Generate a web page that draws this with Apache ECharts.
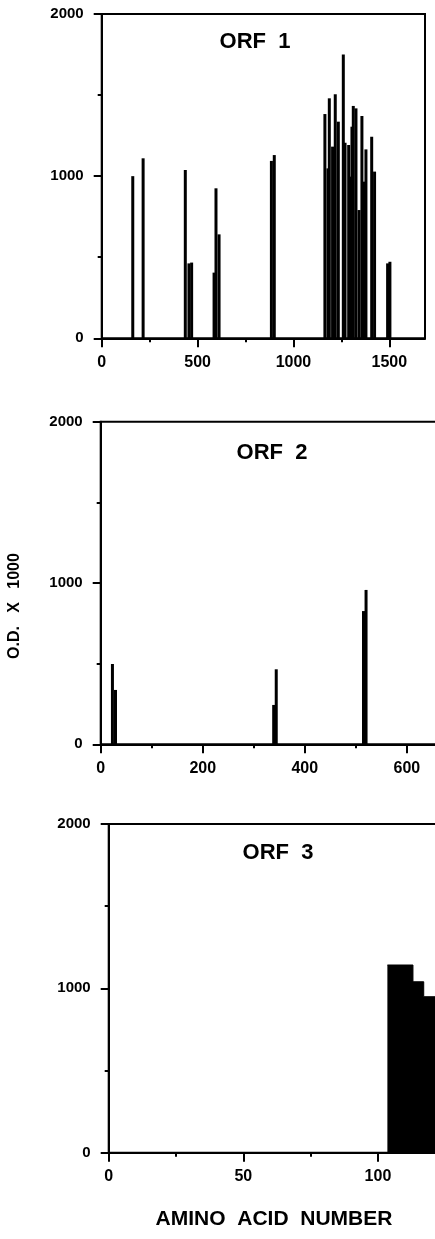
<!DOCTYPE html>
<html lang="en">

<head>
    <meta charset="UTF-8">
    <title>ORF O.D. profiles</title>
    <script src="https://cdn.jsdelivr.net/npm/echarts@6/dist/echarts.min.js"></script>
    <style>
        html, body { margin: 0; padding: 0; background: #fff; }
        #chart { width: 435px; height: 1239px; }
    </style>
</head>

<body>
    <div id="chart"></div>
    <script type="text/javascript">
        // ORF 1 : amino acid position / O.D. x 1000
        var orf1Pos = [162, 216, 436, 455, 469, 586, 596, 612, 885, 900,
            1164, 1180, 1187, 1204, 1218, 1234, 1260, 1269, 1288, 1295, 1305,
            1312, 1326, 1342, 1357, 1368, 1378, 1408, 1423, 1491, 1503];
        var orf1Od = [1000, 1110, 1038, 462, 467, 405, 925, 641, 1094, 1130,
            1383, 1048, 1480, 1182, 1505, 1336, 1751, 1206, 1192, 997, 1305,
            1433, 1418, 791, 1371, 966, 1165, 1243, 1028, 462, 472];

        // ORF 2
        var orf2Pos = [23, 29, 339, 344, 515, 520];
        var orf2Od = [498, 337, 244, 465, 826, 957];

        // ORF 3 (step outline of the filled block)
        var orf3Pos = [103.5, 113, 117, 124];
        var orf3Od = [1142, 1040, 949, 949];

        // tick labels
        var orf1Labels = [0, 500, 1000, 1500];
        var orf1Minor = [250, 750, 1250];
        var orf2Labels = [0, 200, 400, 600];
        var orf2Minor = [100, 300, 500];
        var orf3Labels = [0, 50, 100];
        var orf3Minor = [25, 75];

        function pairs(xs, ys) {
            var out = [];
            for (var i = 0; i < xs.length; i++) out.push([xs[i], ys[i]]);
            return out;
        }
        function plain(v) { return String(v); }   // no thousands comma

        var FONT = 'Liberation Sans';
        var black = '#000';

        // panel boxes (px)
        var panels = [
            { left: 101.7, top: 14, width: 323.3, height: 324.3, max: 1686, labels: orf1Labels, minor: orf1Minor },
            { left: 100.7, top: 421.7, width: 337.3, height: 322.6, max: 661, labels: orf2Labels, minor: orf2Minor },
            { left: 108.7, top: 824, width: 329.3, height: 328.7, max: 122.3, labels: orf3Labels, minor: orf3Minor }
        ];

        var grids = [], xAxes = [], yAxes = [];
        panels.forEach(function (p, i) {
            grids.push({
                left: p.left, top: p.top, width: p.width, height: p.height,
                outerBoundsMode: 'none',
                show: true, borderColor: black, borderWidth: 2, backgroundColor: 'transparent'
            });
            // main axis: line, long ticks, labels
            xAxes.push({
                type: 'value', gridIndex: i, min: 0, max: p.max, position: 'bottom',
                axisLine: { show: true, onZero: false, lineStyle: { color: black, width: 2 } },
                axisTick: { show: true, customValues: p.labels, length: 9, lineStyle: { color: black, width: 2 } },
                axisLabel: {
                    customValues: p.labels, margin: 16, color: black, formatter: plain,
                    fontFamily: FONT, fontWeight: 'bold', fontSize: 16
                },
                splitLine: { show: false }
            });
            // short ticks only
            xAxes.push({
                type: 'value', gridIndex: i, min: 0, max: p.max, position: 'bottom',
                axisLine: { show: false, onZero: false },
                axisTick: { show: true, customValues: p.minor, length: 4, lineStyle: { color: black, width: 2 } },
                axisLabel: { show: false },
                splitLine: { show: false }
            });
            yAxes.push({
                type: 'value', gridIndex: i, min: 0, max: 2000, interval: 1000,
                axisLine: { show: true, lineStyle: { color: black, width: 2 } },
                axisTick: { show: true, length: 8, lineStyle: { color: black, width: 2 } },
                minorTick: { show: true, splitNumber: 2, length: 4, lineStyle: { color: black, width: 2 } },
                axisLabel: {
                    margin: 18, color: black, formatter: plain,
                    fontFamily: FONT, fontWeight: 'bold', fontSize: 15
                },
                splitLine: { show: false }
            });
        });

        function title(txt, x, y, size) {
            return {
                type: 'text', x: x, y: y,
                style: {
                    text: txt, align: 'center', verticalAlign: 'middle',
                    font: 'bold ' + size + 'px "' + FONT + '"', fill: black
                }
            };
        }

        var myChart = echarts.init(document.getElementById('chart'), null, { renderer: 'canvas' });

        var option = {
            animation: false,
            backgroundColor: '#fff',
            grid: grids,
            xAxis: xAxes,
            yAxis: yAxes,
            graphic: [
                title('ORF  1', 255, 42, 22),
                title('ORF  2', 272, 453, 22),
                title('ORF  3', 278, 853, 22),
                title('AMINO  ACID  NUMBER', 274, 1219, 21),
                {
                    type: 'text', x: 15, y: 606, rotation: Math.PI / 2,
                    style: {
                        text: 'O.D.   X   1000', align: 'center', verticalAlign: 'middle',
                        font: 'bold 16px "' + FONT + '"', fill: black
                    }
                }
            ],
            series: [
                {
                    type: 'bar', xAxisIndex: 0, yAxisIndex: 0,
                    barWidth: 3, itemStyle: { color: black },
                    data: pairs(orf1Pos, orf1Od)
                },
                {
                    type: 'bar', xAxisIndex: 2, yAxisIndex: 1,
                    barWidth: 3, itemStyle: { color: black },
                    data: pairs(orf2Pos, orf2Od)
                },
                {
                    type: 'line', xAxisIndex: 4, yAxisIndex: 2,
                    step: 'end', symbol: 'none',
                    lineStyle: { color: black, width: 1 },
                    areaStyle: { color: black, opacity: 1 },
                    data: pairs(orf3Pos, orf3Od)
                }
            ]
        };

        myChart.setOption(option);
    </script>
</body>

</html>
